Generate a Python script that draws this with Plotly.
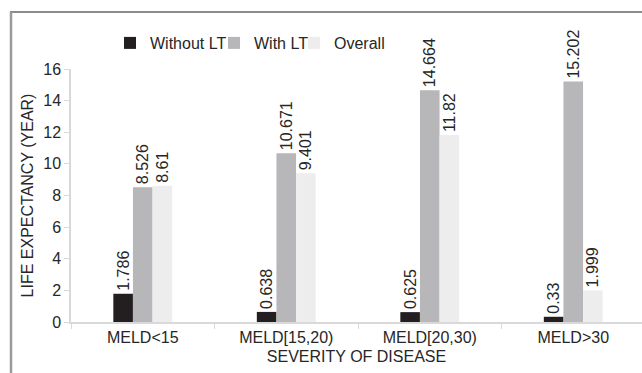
import plotly.graph_objects as go

categories = ["MELD<15", "MELD[15,20)", "MELD[20,30)", "MELD>30"]
without_lt = [1.786, 0.638, 0.625, 0.33]
with_lt = [8.526, 10.671, 14.664, 15.202]
overall = [8.61, 9.401, 11.82, 1.999]
label_without = ["1.786", "0.638", "0.625", "0.33"]
label_with = ["8.526", "10.671", "14.664", "15.202"]
label_overall = ["8.61", "9.401", "11.82", "1.999"]

FONT = "Liberation Sans, Arial, sans-serif"
TXT = "#262626"

W, H = 642, 373
L, R = 71, 0
T = 69
B = H - 322
pw = W - L - R
ph = H - T - B
cat_w = 143.5


def px_x(win_x):
    return (win_x - L) / pw


def px_y(win_y):
    return (322 - win_y) / ph


fig = go.Figure()
series = [
    ("Without LT", without_lt, label_without, "#231f20", "legend", 110),
    ("With LT", with_lt, label_with, "#b7b7b9", "legend2", 214),
    ("Overall", overall, label_overall, "#ededed", "legend3", 294),
]
for name, vals, labs, col, leg, _ in series:
    fig.add_trace(go.Bar(
        name=name, x=categories, y=vals, text=labs,
        textposition="outside", textangle=-90, cliponaxis=False,
        constraintext="none",
        textfont=dict(family=FONT, size=16, color=TXT),
        marker=dict(color=col, line=dict(width=0)),
        legend=leg,
    ))

legend_common = dict(orientation="h", xanchor="left", yanchor="middle",
                     font=dict(family=FONT, size=16, color=TXT),
                     itemwidth=30, bgcolor="rgba(0,0,0,0)")
legends = {}
for name, _, _, _, leg, lx in series:
    legends[leg] = dict(legend_common, x=px_x(lx), y=px_y(43))

fig.update_layout(
    width=W, height=H,
    margin=dict(l=L, r=R, t=T, b=B, pad=0),
    paper_bgcolor="white", plot_bgcolor="white",
    barmode="group", bargap=0.59, bargroupgap=0,
    font=dict(family=FONT, size=16, color=TXT),
    showlegend=True,
    uniformtext=dict(minsize=16, mode="show"),
    xaxis=dict(range=[-0.5, -0.5 + pw / cat_w], showgrid=False,
               showline=True, linecolor="#d9d9d9", linewidth=1.5,
               ticks="outside", tickson="boundaries", ticklen=5,
               tickcolor="#d9d9d9",
               title=dict(text="SEVERITY OF DISEASE", standoff=6,
                          font=dict(family=FONT, size=16, color=TXT)),
               tickfont=dict(family=FONT, size=16, color=TXT)),
    yaxis=dict(range=[0, 16], dtick=2, showgrid=False, zeroline=False,
               showline=True, linecolor="#d9d9d9", linewidth=1.5,
               ticks="outside", ticklen=5, tickcolor="#d9d9d9",
               title=dict(text="LIFE EXPECTANCY (YEAR)", standoff=6,
                          font=dict(family=FONT, size=16, color=TXT)),
               tickfont=dict(family=FONT, size=16, color=TXT)),
    shapes=[
        dict(type="line", xref="paper", yref="paper",
             x0=px_x(10), x1=1.05, y0=px_y(12), y1=px_y(12),
             line=dict(color="#666666", width=1.5), layer="below"),
        dict(type="line", xref="paper", yref="paper",
             x0=px_x(11), x1=px_x(11), y0=px_y(12), y1=-0.3,
             line=dict(color="#9a9a9a", width=2.5), layer="below"),
    ],
    **legends,
)

fig.write_html(
    "out.html",
    config={"displayModeBar": False},
    post_script="document.body.style.margin='0';"
                "document.body.style.overflow='hidden';",
)
